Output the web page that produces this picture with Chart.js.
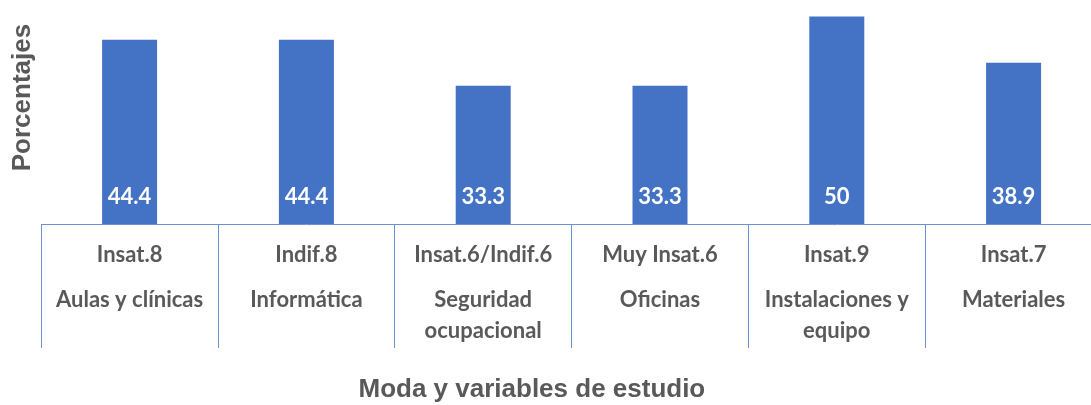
<!DOCTYPE html>
<html>
<head>
<meta charset="utf-8">
<script src="https://cdn.jsdelivr.net/npm/chart.js@4"></script>
<style>
  html, body { margin: 0; padding: 0; background: #ffffff; }
  #wrap { width: 1091px; height: 405px; overflow: hidden; position: relative; }
  canvas { display: block; }
</style>
</head>
<body>
<div id="wrap"><canvas id="c" width="1102" height="405"></canvas></div>
<script>
// ---- data ----
const modes = ["Insat.8", "Indif.8", "Insat.6/Indif.6", "Muy Insat.6", "Insat.9", "Insat.7"];
const variables = [
  ["Aulas y clínicas"],
  ["Informática"],
  ["Seguridad", "ocupacional"],
  ["Oficinas"],
  ["Instalaciones y", "equipo"],
  ["Materiales"]
];
const percentages = [44.4, 44.4, 33.3, 33.3, 50, 38.9];
const valueLabels = ["44.4", "44.4", "33.3", "33.3", "50", "38.9"];

// build multi-line tick labels: mode, gap, variable lines
const tickLabels = modes.map((m, i) => {
  const lines = [m, "", ""];
  variables[i].forEach((v, j) => { if (j > 0) lines.push(""); lines.push(v); });
  return lines;
});

const textColor = "#595959";
const barColor = "#4472C4";
const lineColor = "#6F90D4";

const valueLabelPlugin = {
  id: "valueLabels",
  afterDatasetsDraw(chart) {
    const ctx = chart.ctx;
    const meta = chart.getDatasetMeta(0);
    ctx.save();
    ctx.fillStyle = "#ffffff";
    ctx.font = "bold 22px Lato";
    ctx.textAlign = "center";
    ctx.textBaseline = "alphabetic";
    meta.data.forEach((bar, i) => {
      ctx.fillText(valueLabels[i], bar.x, bar.base - 20);
    });
    ctx.restore();
  }
};

new Chart(document.getElementById("c"), {
  type: "bar",
  data: {
    labels: tickLabels,
    datasets: [{
      data: percentages,
      backgroundColor: barColor,
      borderWidth: 0,
      barPercentage: 0.311,
      categoryPercentage: 1.0
    }]
  },
  options: {
    responsive: false,
    animation: false,
    devicePixelRatio: 1,
    layout: { padding: { left: 7, right: 0, top: 0, bottom: 0 } },
    plugins: {
      legend: { display: false },
      tooltip: { enabled: false }
    },
    scales: {
      x: {
        offset: true,
        afterFit(scale) { scale.height = 181; },
        grid: {
          display: true,
          drawOnChartArea: false,
          drawTicks: true,
          tickLength: 124,
          color: lineColor,
          lineWidth: 1,
          offset: true
        },
        border: { display: true, color: lineColor, width: 1 },
        ticks: {
          color: textColor,
          font: { family: "Lato", weight: "bold", size: 22, lineHeight: "15.2px" },
          padding: -101,
          maxRotation: 0,
          minRotation: 0,
          autoSkip: false
        },
        title: {
          display: true,
          text: "Moda y variables de estudio           ",
          color: textColor,
          font: { family: "Liberation Sans", weight: "bold", size: 26, lineHeight: 1.15 },
          padding: { top: 0, bottom: 0 }
        }
      },
      y: {
        min: 0,
        max: 54,
        grid: { display: false, drawTicks: false },
        border: { display: false },
        ticks: { display: false },
        title: {
          display: true,
          text: "    Porcentajes",
          color: textColor,
          font: { family: "Liberation Sans", weight: "bold", size: 26, lineHeight: 1.2 },
          padding: { top: 0, bottom: 3 }
        }
      }
    }
  },
  plugins: [valueLabelPlugin]
});
</script>
</body>
</html>
